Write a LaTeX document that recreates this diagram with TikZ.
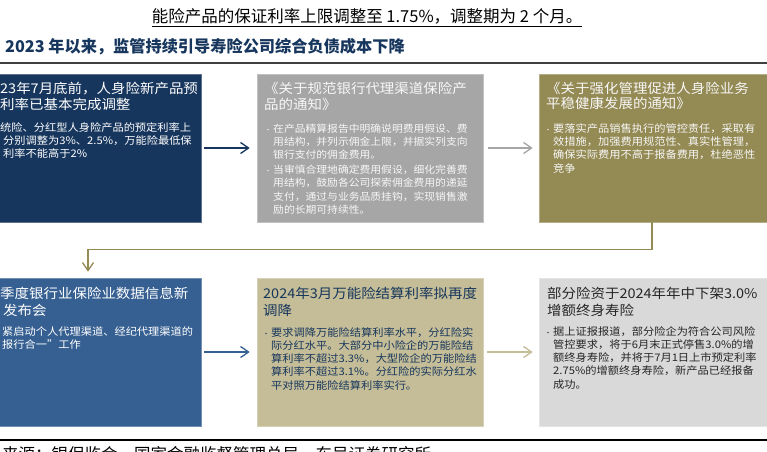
\documentclass[tikz,border=0pt]{standalone}
\usepackage{fontspec}
\setmainfont{Noto Sans CJK SC}
\newfontfamily\boxfont[FakeStretch=1.08]{Noto Sans CJK SC}
\usetikzlibrary{arrows.meta}
\definecolor{cnavy}{HTML}{17365D}
\definecolor{cgray}{HTML}{A6A6A6}
\definecolor{colive}{HTML}{948A54}
\definecolor{cblue}{HTML}{376092}
\definecolor{ctan}{HTML}{C4BD97}
\definecolor{clgray}{HTML}{D9D9D9}
\definecolor{ctxtlight}{HTML}{F7F7F7}
\definecolor{ctxtdark}{HTML}{262626}
\definecolor{crule}{HTML}{3F3F3F}
\newcommand\tline[1]{\hbox{#1}}
% #1 = baselineskip, #2 = lines
\newcommand\ttlstack[2]{\vtop{\boxfont\fontsize{13.4}{#1}\selectfont\lineskiplimit=-20pt\relax #2}}
% #1 = size, #2 = baselineskip, #3 = lines
\newcommand\bdystack[3]{\vtop{\boxfont\fontsize{#1}{#2}\selectfont\lineskiplimit=-20pt\relax #3}}
\newcommand\bul{\llap{{\fontsize{6.5}{6.5}\selectfont\makebox[4pt][c]{•}}\hspace{3pt}}}
\tikzset{
  boxnode/.style={rectangle, inner sep=0, minimum height=148pt, line width=0.6pt},
  txt/.style={anchor=base west, inner sep=0},
  arr/.style={line width=1.3pt, -{Straight Barb[length=8pt,width=11pt,line width=1.3pt]}},
}
\begin{document}
\begin{tikzpicture}[x=1pt,y=-1pt]
\useasboundingbox (0,0) rectangle (767,451);
\clip (0,0) rectangle (767,451);
\fill[white] (0,0) rectangle (767,451);

% header
\node[anchor=base, inner sep=0, font=\fontsize{16.5}{18}\selectfont] (top) at (367,22.3)
  {能险产品的保证利率上限调整至 1.75\%，调整期为 2 个月。};
\draw[line width=0.8pt] ([yshift=-3.7pt]top.base west) -- ([yshift=-3.7pt]top.base east);
\node[txt, text=cnavy, font=\fontsize{16.2}{18}\selectfont\bfseries] (hd) at (5,52)
  {2023 年以来，监管持续引导寿险公司综合负债成本下降};
\draw[crule, line width=2pt] (0,62.5) -- (767,62.5);

% boxes row 1
\node[boxnode, fill=cnavy, draw=cnavy!70!white, minimum width=206pt] (b1) at (98,148) {};
\node[boxnode, fill=cgray, draw=cgray!70!white, minimum width=226pt] (b2) at (370,148) {};
\node[boxnode, fill=colive, draw=colive!70!white, minimum width=232pt] (b3) at (655,148) {};
% boxes row 2
\node[boxnode, fill=cblue, draw=cblue!70!white, minimum width=206pt] (b4) at (98,352) {};
\node[boxnode, fill=ctan, draw=ctan!70!white, minimum width=226pt] (b5) at (370,352) {};
\node[boxnode, fill=clgray, draw=clgray!70!white, minimum width=232pt] (b6) at (655,352) {};

% connectors
\draw[arr, cnavy, shorten <=3pt, shorten >=7pt] (b1.east) -- (b2.west);
\draw[arr, cgray, shorten <=5pt, shorten >=6pt] (b2.east) -- (b3.west);
\draw[arr, colive] ([xshift=-3pt]b3.south) |- ([xshift=-10pt,yshift=28pt]b4.north) -- ([xshift=-10pt,yshift=6pt]b4.north);
\draw[arr, cblue, shorten <=3pt, shorten >=7pt] (b4.east) -- (b5.west);
\draw[arr, ctan, shorten <=4pt, shorten >=6pt] (b5.east) -- (b6.west);

% box 1 text
\node[txt, text=white] (t1) at (0,93.1)
  {\ttlstack{16.3pt}{\tline{23年7月底前，人身险新产品预}\tline{利率已基本完成调整}}};
\node[txt, text=white] (d1) at (0,131)
  {\bdystack{10.4}{13.3}{\tline{统险、分红型人身险产品的预定利率上}\tline{\hspace{3pt}分别调整为3\%、2.5\%，万能险最低保}\tline{\hspace{3pt}利率不能高于2\%}}};

% box 2 text
\node[txt, text=ctxtlight] (t2) at (264,93.1)
  {\ttlstack{16.3pt}{\tline{《关于规范银行代理渠道保险产}\tline{品的通知》}}};
\node[txt, text=ctxtlight] (d2) at (273,132)
  {\bdystack{10.0}{13.2}{\tline{\bul 在产品精算报告中明确说明费用假设、费}\tline{用结构，并列示佣金上限，并据实列支向}\tline{银行支付的佣金费用。}\vskip2pt
   \tline{\bul 当审慎合理地确定费用假设，细化完善费}\tline{用结构，鼓励各公司探索佣金费用的递延}\tline{支付，通过与业务品质挂钩，实现销售激}\tline{励的长期可持续性。}}};

% box 3 text
\node[txt, text=ctxtlight] (t3) at (546,93.1)
  {\ttlstack{15pt}{\tline{《关于强化管理促进人身险业务}\tline{平稳健康发展的通知》}}};
\node[txt, text=ctxtlight] (d3) at (553,132)
  {\bdystack{10.4}{13.4}{\tline{\bul 要落实产品销售执行的管控责任，采取有}\tline{效措施，加强费用规范性、真实性管理，}\tline{确保实际费用不高于报备费用，杜绝恶性}\tline{竞争}}};

% box 4 text
\node[txt, text=white] (t4) at (0,298.1)
  {\ttlstack{17pt}{\tline{季度银行业保险业数据信息新}\tline{\hspace{3pt}发布会}}};
\node[txt, text=white] (d4) at (2,335)
  {\bdystack{10.4}{13.3}{\tline{紧启动个人代理渠道、经纪代理渠道的}\tline{报行合一”工作}}};

% box 5 text
\node[txt, text=cnavy] (t5) at (263,298.1)
  {\ttlstack{17pt}{\tline{2024年3月万能险结算利率拟再度}\tline{调降}}};
\node[txt, text=cnavy] (d5) at (271,336)
  {\bdystack{10.4}{13.25}{\tline{\bul 要求调降万能险结算利率水平，分红险实}\tline{际分红水平。大部分中小险企的万能险结}\tline{算利率不超过3.3\%，大型险企的万能险结}\tline{算利率不超过3.1\%。分红险的实际分红水}\tline{平对照万能险结算利率实行。}}};

% box 6 text
\node[txt, text=ctxtdark] (t6) at (547,298.1)
  {\ttlstack{17pt}{\tline{部分险资于2024年年中下架3.0\%}\tline{增额终身寿险}}};
\node[txt, text=ctxtdark] (d6) at (553,335)
  {\bdystack{10.4}{13.3}{\tline{\bul 据上证报报道，部分险企为符合公司风险}\tline{管控要求，将于6月末正式停售3.0\%的增}\tline{额终身寿险，并将于7月1日上市预定利率}\tline{2.75\%的增额终身寿险，新产品已经报备}\tline{成功。}}};

% footer
\draw[black, line width=1.5pt] (0,440) -- (767,440);
\node[txt, font=\fontsize{16.5}{18}\selectfont] (src) at (2,460)
  {来源：银保监会，国家金融监督管理总局，东吴证券研究所};
\end{tikzpicture}
\end{document}
